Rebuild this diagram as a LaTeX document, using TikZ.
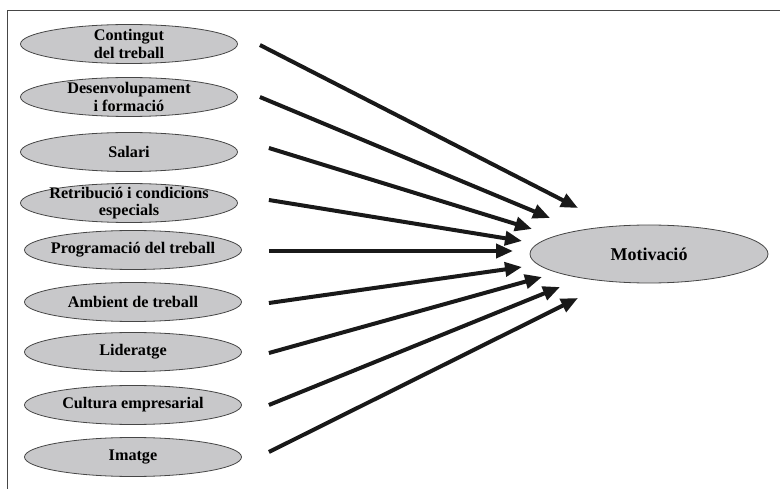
\documentclass[tikz,border=0pt]{standalone}
\usepackage{fontspec}
\setmainfont{Liberation Serif}
\usepackage{xcolor}
\usetikzlibrary{shapes}
\usetikzlibrary{arrows.meta}

\definecolor{ovalgray}{RGB}{200,200,202}
\definecolor{rimgray}{RGB}{70,70,70}

\begin{document}
\begin{tikzpicture}[x=1pt,y=-1pt,
  factor/.style={ellipse, draw=rimgray, fill=ovalgray, line width=0.8pt,
                 minimum width=217pt, minimum height=39pt, inner sep=0pt},
  factortext/.style={align=center, inner sep=0pt,
                 font=\fontsize{16.2}{17.5}\selectfont\bfseries},
  arrow/.style={line width=4pt, black!90, -{Triangle[length=17pt,width=14pt]}}]
\useasboundingbox (0,0) rectangle (780,489);
\draw [rimgray, line width=1pt] (7,489) -- (7,11) -- (780,11);

\node [factor, label={[factortext]center:{Contingut\\del treball}}]
       (ct) at (129,44) {};
\node [factor, label={[factortext]center:{Desenvolupament\\i formació}}]
       (df) at (129,97) {};
\node [factor, label={[factortext]center:{Salari}}]
       (sl) at (129,152) {};
\node [factor, label={[factortext]center:{Retribució i condicions\\especials}}]
       (rc) at (129,203) {};
\node [factor, label={[factortext]center:{Programació del treball}}]
       (pt) at (133,250) {};
\node [factor, label={[factortext]center:{Ambient de treball}}]
       (am) at (133,302) {};
\node [factor, label={[factortext]center:{Lideratge}}]
       (ld) at (133,352) {};
\node [factor, label={[factortext]center:{Cultura empresarial}}]
       (ce) at (133,405) {};
\node [factor, label={[factortext]center:{Imatge}}]
       (im) at (133,457) {};

\node [factor, minimum width=238pt, minimum height=58pt,
       font=\fontsize{18}{20}\selectfont\bfseries]
       (mot) at (649,254) {Motivació};

\coordinate (t1) at (578,208);
\coordinate (t2) at (550,218);
\coordinate (t3) at (532,229);
\coordinate (t4) at (522,241);
\coordinate (t5) at (513,251);
\coordinate (t6) at (522,267);
\coordinate (t7) at (542,277);
\coordinate (t8) at (560,287);
\coordinate (t9) at (578,298);

\draw [arrow] ([shift={(22,1)}]ct.east) -- (t1);
\draw [arrow] ([shift={(22,0)}]df.east) -- (t2);
\draw [arrow] ([shift={(31,-4)}]sl.east) -- (t3);
\draw [arrow] ([shift={(31,-3)}]rc.east) -- (t4);
\draw [arrow] ([shift={(27,1)}]pt.east) -- (t5);
\draw [arrow] ([shift={(27,1)}]am.east) -- (t6);
\draw [arrow] ([shift={(27,1)}]ld.east) -- (t7);
\draw [arrow] ([shift={(27,0)}]ce.east) -- (t8);
\draw [arrow] ([shift={(27,-5)}]im.east) -- (t9);
\end{tikzpicture}
\end{document}
